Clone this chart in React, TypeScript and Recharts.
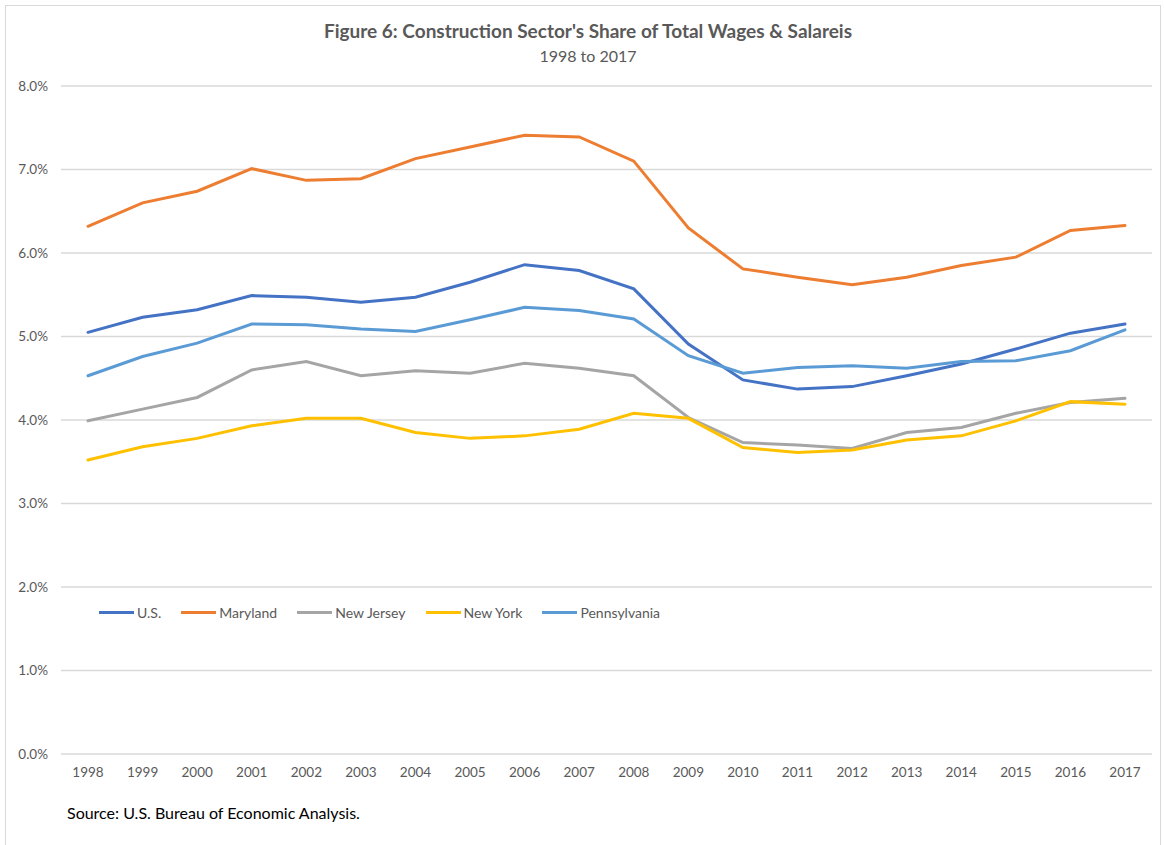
import React from "react";
import { LineChart, Line, XAxis, YAxis, CartesianGrid, Legend } from "recharts";

const years = [
  "1998", "1999", "2000", "2001", "2002", "2003", "2004", "2005", "2006", "2007",
  "2008", "2009", "2010", "2011", "2012", "2013", "2014", "2015", "2016", "2017",
];

const us = [5.05, 5.23, 5.32, 5.49, 5.47, 5.41, 5.47, 5.65, 5.86, 5.79, 5.57, 4.91, 4.48, 4.37, 4.40, 4.53, 4.67, 4.85, 5.04, 5.15];
const maryland = [6.32, 6.60, 6.74, 7.01, 6.87, 6.89, 7.13, 7.27, 7.41, 7.39, 7.10, 6.30, 5.81, 5.71, 5.62, 5.71, 5.85, 5.95, 6.27, 6.33];
const newJersey = [3.99, 4.13, 4.27, 4.60, 4.70, 4.53, 4.59, 4.56, 4.68, 4.62, 4.53, 4.03, 3.73, 3.70, 3.66, 3.85, 3.91, 4.08, 4.21, 4.26];
const newYork = [3.52, 3.68, 3.78, 3.93, 4.02, 4.02, 3.85, 3.78, 3.81, 3.89, 4.08, 4.02, 3.67, 3.61, 3.64, 3.76, 3.81, 3.99, 4.22, 4.19];
const pennsylvania = [4.53, 4.76, 4.92, 5.15, 5.14, 5.09, 5.06, 5.20, 5.35, 5.31, 5.21, 4.77, 4.56, 4.63, 4.65, 4.62, 4.70, 4.71, 4.83, 5.08];

const yTicks = [0, 1, 2, 3, 4, 5, 6, 7, 8];

const series = [
  { key: "us", name: "U.S.", color: "#4472C4" },
  { key: "md", name: "Maryland", color: "#ED7D31" },
  { key: "nj", name: "New Jersey", color: "#A5A5A5" },
  { key: "ny", name: "New York", color: "#FFC000" },
  { key: "pa", name: "Pennsylvania", color: "#5B9BD5" },
];

const data = years.map((year, i) => ({
  year,
  us: us[i],
  md: maryland[i],
  nj: newJersey[i],
  ny: newYork[i],
  pa: pennsylvania[i],
}));

const FONT = "Lato, 'Open Sans', sans-serif";
const TEXT = "#595959";

// legend sits inside the plot, just under the 2.0% gridline
const LegendBox = () => (
  <div style={{ display: "flex", alignItems: "center", fontFamily: FONT, fontSize: 14, color: TEXT, whiteSpace: "nowrap" }}>
    {series.map((s) => (
      <div key={s.key} style={{ display: "flex", alignItems: "center", marginRight: 20 }}>
        <span style={{ display: "inline-block", width: 35, height: 3, background: s.color, marginRight: 3 }} />
        <span>{s.name}</span>
      </div>
    ))}
  </div>
);

export default function App() {
  return (
    <div style={{ position: "absolute", left: 0, top: 0, width: 1164, height: 845, background: "#fff" }}>
      <div
        style={{
          position: "absolute",
          left: 5,
          top: 5,
          width: 1156,
          height: 845,
          border: "1px solid #d9d9d9",
          boxSizing: "border-box",
        }}
      />
      <div
        style={{
          position: "absolute",
          top: 19,
          left: 0,
          width: 1176,
          textAlign: "center",
          fontFamily: FONT,
          fontWeight: 700,
          fontSize: 19,
          color: TEXT,
        }}
      >
        Figure 6: Construction Sector's Share of Total Wages &amp; Salareis
      </div>
      <div
        style={{
          position: "absolute",
          top: 46,
          left: 0,
          width: 1176,
          textAlign: "center",
          fontFamily: FONT,
          fontSize: 16,
          color: TEXT,
        }}
      >
        1998 to 2017
      </div>
      <LineChart
        width={1164}
        height={845}
        data={data}
        margin={{ top: 86, right: 12, left: 0, bottom: 61 }}
        style={{ position: "absolute", left: 0, top: 0 }}
      >
        <CartesianGrid vertical={false} stroke="#d9d9d9" strokeWidth={1.3} />
        <XAxis
          dataKey="year"
          height={30}
          padding={{ left: 27, right: 27 }}
          axisLine={false}
          tickLine={false}
          tickSize={0}
          tickMargin={13}
          interval={0}
          tick={{ fill: TEXT, fontSize: 13.5, fontFamily: FONT }}
        />
        <YAxis
          width={61}
          domain={[0, 8]}
          ticks={yTicks}
          axisLine={false}
          tickLine={false}
          tickSize={0}
          tickMargin={13}
          tickFormatter={(v: number) => `${v.toFixed(1)}%`}
          tick={{ fill: TEXT, fontSize: 13.5, fontFamily: FONT }}
        />
        <Legend
          content={<LegendBox />}
          layout="horizontal"
          verticalAlign="middle"
          align="center"
          wrapperStyle={{ left: 99, top: 604, width: "auto" }}
        />
        {series.map((s) => (
          <Line
            key={s.key}
            type="linear"
            dataKey={s.key}
            name={s.name}
            stroke={s.color}
            strokeWidth={3}
            strokeLinecap="round"
            dot={false}
            activeDot={false}
            isAnimationActive={false}
          />
        ))}
      </LineChart>
      <div
        style={{
          position: "absolute",
          left: 67,
          top: 803,
          fontFamily: FONT,
          fontSize: 16,
          color: "#000",
        }}
      >
        Source: U.S. Bureau of Economic Analysis.
      </div>
    </div>
  );
}
